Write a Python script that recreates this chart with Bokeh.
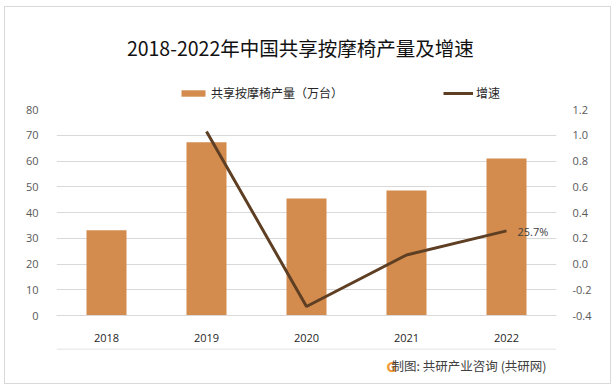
from bokeh.plotting import figure
from bokeh.models import (FactorRange, Range1d, LinearAxis, Label, Legend, LegendItem,
                          ColumnDataSource, FixedTicker, NumeralTickFormatter, LabelSet, Span)
from bokeh.layouts import column
from bokeh.embed import file_html
from bokeh.resources import INLINE
from bokeh.core.properties import value

# ---- data ----
years = ["2018", "2019", "2020", "2021", "2022"]
output = [33.1, 67.3, 45.4, 48.5, 61.0]          # 万台
growth_years = ["2019", "2020", "2021", "2022"]
growth = [1.03, -0.33, 0.07, 0.257]
label_years = ["2022"]
label_vals = [0.257]
label_texts = ["25.7%"]
left_ticks = [0, 10, 20, 30, 40, 50, 60, 70, 80]
right_ticks = [-0.4, -0.2, 0.0, 0.2, 0.4, 0.6, 0.8, 1.0, 1.2]

title_text = "2018-2022年中国共享按摩椅产量及增速"
bar_name = "共享按摩椅产量（万台）"
line_name = "增速"
source_text = "制图: 共研产业咨询 (共研网)"

BAR = "#D38C4E"
LINE = "#5E3F24"
GRID = "#D9D9D9"
CJK = "Noto Sans CJK SC"
NUM = "Open Sans"
W = 605

# ---------- header (title + legend) ----------
# same series drawn on a y range far above the data, so only their legend glyphs show
h = figure(width=W, height=95, x_range=FactorRange(*years, range_padding=0, factor_padding=0),
           y_range=Range1d(200, 295),
           output_backend="svg", toolbar_location=None, min_border=0,
           x_axis_type=None, y_axis_type=None)
h.outline_line_color = None
h.xgrid.grid_line_color = None
h.ygrid.grid_line_color = None
px = len(years) / W  # data units per pixel on header x range
h.add_layout(Label(x=295 * px, y=255, text=title_text, text_align="center", text_baseline="middle",
                   text_font=CJK, text_font_size="19.5px", text_color="#111111"))
hb = h.vbar(x=years, top=output, width=0.4, fill_color=BAR, line_color=None)
hl = h.line(x=growth_years, y=growth, line_color=LINE, line_width=3)
legend = Legend(items=[LegendItem(label=bar_name, renderers=[hb]),
                       LegendItem(label=line_name, renderers=[hl])],
                orientation="horizontal", location=(122, 1),
                padding=0, margin=0, spacing=100, glyph_width=30, glyph_height=8,
                label_standoff=3, label_height=14,
                label_text_font=CJK, label_text_font_size="12px", label_text_color="#262626",
                border_line_color=None, background_fill_alpha=0)
h.add_layout(legend, "center")

# ---------- main chart ----------
p = figure(x_range=FactorRange(*years, range_padding=0, factor_padding=0),
           y_range=Range1d(0, 80), width=W, height=246,
           output_backend="svg", toolbar_location=None,
           min_border_left=51, min_border_right=54, min_border_top=7, min_border_bottom=33)
p.outline_line_color = None
p.extra_y_ranges = {"growth": Range1d(-0.4, 1.2)}

bars = p.vbar(x=years, top=output, width=0.4, fill_color=BAR, line_color=None)
ln = p.line(x=growth_years, y=growth, y_range_name="growth", line_color=LINE, line_width=3)

lsrc = ColumnDataSource(dict(x=label_years, y=label_vals, t=label_texts))
p.add_layout(LabelSet(x="x", y="y", text="t", source=lsrc, y_range_name="growth",
                      x_offset=11, y_offset=-1, text_baseline="middle", text_align="left",
                      text_font=value(NUM), text_font_size=value("11px"), text_color="#404040"))

p.yaxis.ticker = FixedTicker(ticks=left_ticks)
ax_r = LinearAxis(y_range_name="growth", ticker=FixedTicker(ticks=right_ticks),
                  formatter=NumeralTickFormatter(format="0.0"))
p.add_layout(ax_r, "right")
for ax in [p.yaxis[0], ax_r]:
    ax.axis_line_color = None
    ax.major_tick_line_color = None
    ax.minor_tick_line_color = None
    ax.major_label_text_font = NUM
    ax.major_label_text_font_size = "11px"
    ax.major_label_text_color = "#595959"
p.yaxis[0].major_label_standoff = 12
ax_r.major_label_standoff = 10

xa = p.xaxis[0]
xa.axis_line_color = GRID
xa.major_tick_line_color = None
xa.minor_tick_line_color = None
xa.major_label_text_font = NUM
xa.major_label_text_font_size = "11px"
xa.major_label_text_color = "#262626"
xa.major_label_standoff = 12

p.xgrid.grid_line_color = None
p.ygrid.grid_line_color = GRID
p.ygrid.grid_line_width = 1

# ---------- footer ----------
f = figure(width=W, height=35, x_range=Range1d(0, W), y_range=Range1d(0, 35),
           output_backend="svg", toolbar_location=None, min_border=0,
           x_axis_type=None, y_axis_type=None)
f.outline_line_color = None
f.xgrid.grid_line_color = None
f.ygrid.grid_line_color = None
f.add_layout(Span(location=34.5, dimension="width", line_color=GRID, line_width=1))
f.add_layout(Label(x=399, y=18, text="G", text_align="left", text_baseline="middle",
                   text_font=NUM, text_font_style="bold", text_font_size="15px",
                   text_color="#F29A3A"))
f.add_layout(Label(x=593, y=18, text=source_text, text_align="right", text_baseline="middle",
                   text_font=CJK, text_font_size="12.5px", text_color="#404040"))

layout = column(h, p, f, spacing=0,
                styles={"border": "1px solid #D9D9D9", "margin-left": "4px", "margin-top": "6px"})
open("out.html", "w").write(file_html(layout, INLINE))
